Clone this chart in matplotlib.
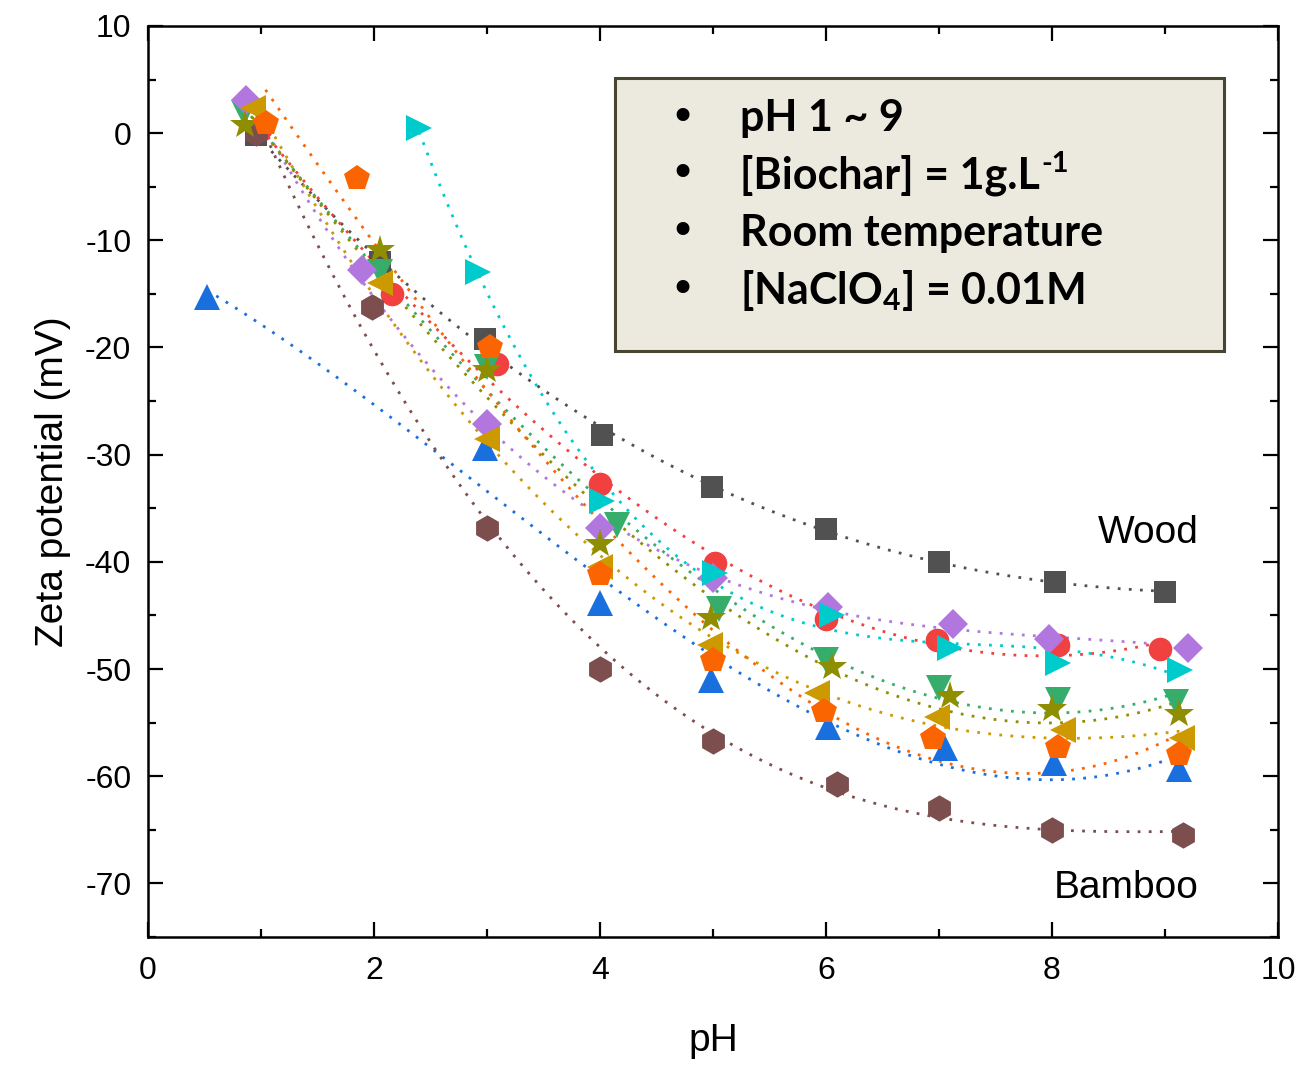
import numpy as np
import matplotlib
matplotlib.use("Agg")
import matplotlib.pyplot as plt
from matplotlib.patches import Rectangle

plt.rcParams['font.family'] = ['Liberation Sans', 'DejaVu Sans']
plt.rcParams['axes.unicode_minus'] = False
plt.rcParams['mathtext.fontset'] = 'custom'
plt.rcParams['mathtext.rm'] = 'Lato'
plt.rcParams['mathtext.bf'] = 'Lato:bold'

# ---- data (pH, zeta potential mV) ----
sq_x = [0.96, 2.05, 2.98, 4.02, 4.99, 6.0, 7.0, 8.03, 9.0]
sq_y = [-0.2, -12.0, -19.2, -28.2, -33.0, -36.9, -40.0, -41.9, -42.8]

ci_x = [1.0, 2.16, 3.09, 4.0, 5.02, 6.0, 6.98, 8.05, 8.96]
ci_y = [0.5, -15.0, -21.5, -32.7, -40.1, -45.3, -47.3, -47.8, -48.1]

tu_x = [0.52, 2.98, 4.0, 4.98, 6.02, 7.05, 8.02, 9.12]
tu_y = [-15.3, -29.4, -43.8, -51.0, -55.4, -57.4, -58.8, -59.3]

td_x = [0.85, 2.05, 3.0, 4.15, 5.05, 6.0, 7.0, 8.05, 9.1]
td_y = [1.9, -13.0, -21.8, -36.6, -44.4, -49.2, -51.8, -52.9, -53.1]

di_x = [0.87, 1.89, 3.0, 4.0, 5.0, 6.02, 7.12, 7.97, 9.2]
di_y = [3.1, -12.8, -27.1, -36.8, -41.5, -44.2, -45.8, -47.2, -48.0]

tl_x = [0.93, 2.05, 3.0, 4.0, 4.97, 5.92, 6.98, 8.1, 9.15]
tl_y = [2.3, -14.0, -28.5, -40.5, -47.8, -52.2, -54.5, -55.7, -56.4]

tr_x = [2.4, 2.92, 4.02, 5.02, 6.05, 7.1, 8.05, 9.13]
tr_y = [0.5, -13.0, -34.3, -41.0, -45.0, -48.0, -49.4, -50.1]

hx_x = [0.96, 1.98, 3.0, 4.0, 5.0, 6.1, 7.0, 8.0, 9.16]
hx_y = [0.0, -16.2, -36.8, -50.0, -56.7, -60.7, -63.0, -65.0, -65.5]

st_x = [0.86, 2.05, 3.0, 4.0, 4.98, 6.05, 7.1, 8.0, 9.12]
st_y = [0.75, -10.9, -22.1, -38.3, -45.2, -49.8, -52.5, -53.7, -54.2]

pe_x = [1.04, 1.85, 3.03, 4.0, 5.0, 5.98, 6.95, 8.05, 9.12]
pe_y = [0.9, -4.2, -20.0, -41.1, -49.2, -53.9, -56.4, -57.3, -57.9]

series = [
    (sq_x, sq_y, 's', '#515151', 16),
    (ci_x, ci_y, 'o', '#F14040', 17),
    (tu_x, tu_y, '^', '#1A6FDF', 19),
    (td_x, td_y, 'v', '#37AD6B', 19),
    (di_x, di_y, 'D', '#B177DE', 15),
    (tl_x, tl_y, '<', '#CC9900', 19),
    (tr_x, tr_y, '>', '#00CBCC', 19),
    (hx_x, hx_y, 'h', '#7D4E4E', 19),
    (st_x, st_y, '*', '#8E8E00', 22),
    (pe_x, pe_y, 'p', '#FB6501', 19),
]

info_lines = ['pH 1 ~ 9',
              '[Biochar] = 1g.L',
              'Room temperature',
              r'[NaClO$_{\mathbf{4}}$] = 0.01M']
info_sup = [None, '-1', None, None]

fig = plt.figure(figsize=(13.05, 10.68), dpi=100)
ax = fig.add_axes([0.1134, 0.1227, 0.8659, 0.853])

# fit curves (dotted)
for xs, ys, m, c, ms in series:
    xa = np.array(xs); ya = np.array(ys)
    coef = np.polyfit(xa, ya, 3)
    xf = np.linspace(xa.min(), xa.max() + 0.05, 200)
    ax.plot(xf, np.polyval(coef, xf), linestyle=(0, (1, 3)), color=c,
            lw=2.0, zorder=2)

for xs, ys, m, c, ms in series:
    ax.plot(xs, ys, linestyle='none', marker=m, color=c, ms=ms,
            markeredgewidth=0, zorder=3)

ax.set_xlim(0, 10)
ax.set_ylim(-75, 10)
ax.set_xticks(np.arange(0, 11, 2))
ax.set_xticks(np.arange(0, 11, 1), minor=True)
ax.set_yticks(np.arange(-70, 11, 10))
ax.set_yticks(np.arange(-75, 11, 5), minor=True)
ax.tick_params(which='both', direction='in', top=True, right=True,
               labelsize=23, width=1.6)
ax.tick_params(axis='x', which='both', pad=14)
ax.tick_params(axis='y', which='both', pad=12)
ax.tick_params(which='major', length=11)
ax.tick_params(which='minor', length=6)
for s in ax.spines.values():
    s.set_linewidth(1.8)

ax.set_xlabel('pH', fontsize=28, labelpad=26)
ax.set_ylabel('Zeta potential (mV)', fontsize=28, labelpad=10)

ax.text(9.3, -37.3, 'Wood', fontsize=28, ha='right', va='center')
ax.text(9.3, -70.4, 'Bamboo', fontsize=28, ha='right', va='center')

# info box
ax.add_patch(Rectangle((4.13, -20.3), 5.39, 25.4, facecolor='#ECE9DF',
                       edgecolor='#4A4530', lw=2.2, zorder=5))
ys_txt = [1.4, -3.9, -9.3, -14.7]
for yy, t, sup in zip(ys_txt, info_lines, info_sup):
    ax.text(4.73, yy, '\u2022', fontsize=32, ha='center', va='center',
            family='DejaVu Sans', zorder=6)
    tx = ax.text(5.24, yy, t, fontsize=31, ha='left', va='center',
                 family=['Lato', 'DejaVu Sans'], fontweight='bold', zorder=6)
    if sup:
        ax.annotate(sup, xy=(1, 1), xycoords=tx, xytext=(1, 2),
                    textcoords='offset points', ha='left', va='top',
                    fontsize=21, fontweight='bold',
                    family=['Lato', 'DejaVu Sans'], zorder=6)

fig.savefig('out.png', dpi=100)
